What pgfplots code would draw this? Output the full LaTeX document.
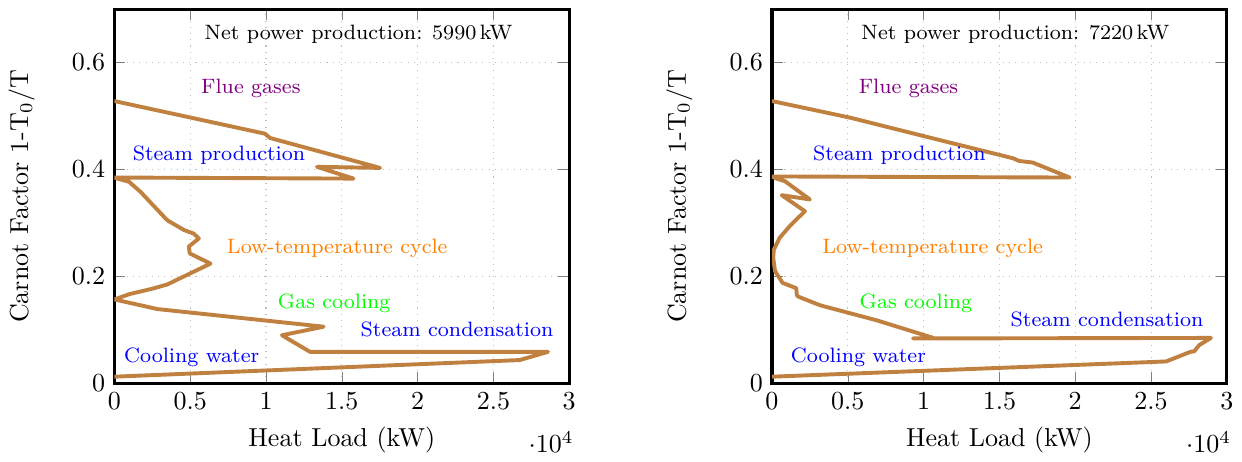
\documentclass[border=0pt]{standalone}
\usepackage{pgfplots}
\pgfplotsset{compat=1.18}
\definecolor{curve}{RGB}{192,128,64}
\definecolor{lowtemp}{RGB}{255,128,0}

\pgfplotsset{
  hx/.style={
    scale only axis,
    width=175pt, height=144pt,
    xmin=0, xmax=30000, ymin=0, ymax=0.7,
    xtick={0,5000,...,30000},
    ytick={0,0.2,0.4,0.6},
    grid=major,
    grid style={dotted, gray!50},
    axis line style={line width=1.2pt},
    xlabel={Heat Load (kW)},
    ylabel={Carnot Factor 1-T$_0$/T},
    ylabel shift=7.5pt,
    every x tick scale label/.append style={xshift=10.5pt},
  },
}
\tikzset{lab/.style={font=\footnotesize, anchor=center}}

\begin{document}
\begin{tikzpicture}
% 5990 kW case
\begin{axis}[hx]
\addplot[curve, line width=1.5pt, line join=round] coordinates {
  (0,0.528) (9930,0.467) (10260,0.459) (17520,0.403) (13360,0.405)
  (15770,0.383) (0,0.385) (200,0.383) (970,0.377) (1730,0.358)
  (3490,0.305) (4580,0.287) (5240,0.280) (5570,0.271) (4910,0.256)
  (4970,0.243) (6340,0.224) (3490,0.185) (2500,0.177) (1000,0.167)
  (0,0.157) (2830,0.139) (13800,0.106) (11050,0.090) (12900,0.059)
  (28600,0.059) (26730,0.0436) (0,0.0125)
};
\node[lab] at (axis cs:16100,0.652) {Net power production: 5990\,kW};
\node[lab, text=violet] at (axis cs:9000,0.551) {Flue gases};
\node[lab, text=blue] at (axis cs:6900,0.426) {Steam production};
\node[lab, text=lowtemp] at (axis cs:14700,0.252) {Low-temperature cycle};
\node[lab, text=green] at (axis cs:14500,0.150) {Gas cooling};
\node[lab, text=blue] at (axis cs:22600,0.101) {Steam condensation};
\node[lab, text=blue] at (axis cs:5100,0.049) {Cooling water};
\end{axis}
\path (current axis.north) ++(0,3.5pt);

% 7220 kW case
\begin{axis}[hx, at={(253pt,0)}]
\addplot[curve, line width=1.5pt, line join=round] coordinates {
  (0,0.528) (5150,0.497) (10640,0.458) (15900,0.421) (16300,0.416)
  (17200,0.413) (19630,0.385) (0,0.387) (200,0.384) (860,0.378)
  (2500,0.344) (640,0.352) (2170,0.322) (1200,0.295) (500,0.272)
  (120,0.250) (80,0.235) (200,0.210) (700,0.188) (1600,0.178)
  (1640,0.165) (1750,0.162) (3180,0.146) (6900,0.118) (10640,0.085)
  (9300,0.084) (28950,0.085) (28180,0.0716) (27850,0.060) (27600,0.059)
  (26000,0.041) (0,0.0125)
};
\node[lab] at (axis cs:16050,0.652) {Net power production: 7220\,kW};
\node[lab, text=violet] at (axis cs:9000,0.551) {Flue gases};
\node[lab, text=blue] at (axis cs:8400,0.426) {Steam production};
\node[lab, text=lowtemp] at (axis cs:10600,0.252) {Low-temperature cycle};
\node[lab, text=green] at (axis cs:9500,0.150) {Gas cooling};
\node[lab, text=blue] at (axis cs:22100,0.120) {Steam condensation};
\node[lab, text=blue] at (axis cs:5700,0.049) {Cooling water};
\end{axis}
\end{tikzpicture}
\end{document}
